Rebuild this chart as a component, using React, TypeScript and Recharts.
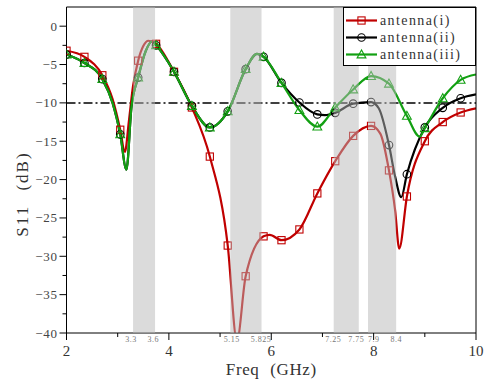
import React from 'react';
import { LineChart, Line, XAxis, YAxis, ReferenceLine, ReferenceArea } from 'recharts';

// S11, frequency in GHz, value in dB
const freqI = [2.0, 2.35, 2.7, 2.9, 3.05, 3.14, 3.22, 3.3, 3.4, 3.5, 3.6, 3.75, 4.1, 4.45, 4.8, 5.15, 5.33, 5.5, 5.85, 5.97, 6.2, 6.55, 6.9, 7.25, 7.6, 7.95, 8.13, 8.3, 8.42, 8.5, 8.65, 9.0, 9.35, 9.7, 10.0];
const s11I = [-3.2, -4.0, -6.4, -9.5, -13.5, -16.4, -12.3, -7.8, -4.5, -2.6, -1.9, -2.3, -5.95, -10.6, -17.0, -28.6, -41, -32.6, -27.4, -27.2, -27.9, -26.5, -21.8, -17.6, -14.3, -13.0, -14.0, -18.8, -24, -29.0, -22.2, -15.0, -12.5, -11.25, -10.7];

const freqII = [2.0, 2.35, 2.7, 2.9, 3.05, 3.17, 3.27, 3.4, 3.55, 3.67, 3.75, 4.1, 4.45, 4.8, 5.15, 5.5, 5.72, 5.85, 6.2, 6.55, 6.9, 7.05, 7.25, 7.6, 7.95, 8.1, 8.3, 8.42, 8.54, 8.65, 9.0, 9.35, 9.7, 10.0];
const s11II = [-3.7, -4.8, -6.9, -10.0, -14.1, -18.7, -10.5, -6.7, -3.2, -2.0, -2.5, -5.95, -10.4, -13.2, -11.1, -5.6, -3.6, -4.0, -7.4, -9.95, -11.5, -11.6, -11.3, -10.1, -9.9, -10.7, -15.5, -19.6, -22.3, -19.3, -13.2, -10.65, -9.4, -8.9];

const freqIII = [2.0, 2.35, 2.7, 2.9, 3.05, 3.17, 3.27, 3.4, 3.55, 3.67, 3.75, 4.1, 4.45, 4.8, 5.15, 5.5, 5.72, 5.85, 6.2, 6.55, 6.9, 7.25, 7.6, 7.95, 8.3, 8.65, 8.9, 9.0, 9.35, 9.7, 10.0];
const s11III = [-3.7, -4.8, -6.9, -10.0, -14.1, -18.7, -10.5, -6.7, -3.2, -2.0, -2.5, -5.95, -10.4, -13.2, -11.1, -5.6, -3.6, -4.0, -7.4, -10.95, -13.1, -10.6, -8.25, -6.5, -7.5, -11.7, -14.4, -13.3, -9.4, -7.0, -6.3];

// markers sit every 0.35 GHz
const MARKER_FREQS = [2.0, 2.35, 2.7, 3.05, 3.4, 3.75, 4.1, 4.45, 4.8, 5.15, 5.5, 5.85, 6.2, 6.55, 6.9, 7.25, 7.6, 7.95, 8.3, 8.65, 9.0, 9.35, 9.7];

// shaded bands (GHz) and their labels under the axis
const BAND_START = [3.3, 5.2, 7.22, 7.89];
const BAND_END = [3.73, 5.81, 7.71, 8.44];
const BAND_LABEL_AT = [3.26, 3.695, 5.23, 5.8, 7.21, 7.66, 8.0, 8.44];
const BAND_LABEL_TEXT = ['3.3', '3.6', '5.15', '5.825', '7.25', '7.75', '7.9', '8.4'];

const X_TICKS = [2, 3, 4, 5, 6, 7, 8, 9, 10];
const Y_TICKS = [-40, -37.5, -35, -32.5, -30, -27.5, -25, -22.5, -20, -17.5, -15, -12.5, -10, -7.5, -5, -2.5, 0];

const RED = '#c00000';
const BLACK = '#000000';
const GREEN = '#12a012';
const SERIF = '"Liberation Serif", "Times New Roman", serif';

const toPoints = (f: number[], v: number[]) => f.map((x, i) => ({ f: x, v: v[i] }));
const dataI = toPoints(freqI, s11I);
const dataII = toPoints(freqII, s11II);
const dataIII = toPoints(freqIII, s11III);

const isMarker = (f: number) => MARKER_FREQS.some(m => Math.abs(m - f) < 1e-6);

const Marker = ({ shape, cx, cy, color }: any) => {
  if (shape === 'square') {
    return <rect x={cx - 3.6} y={cy - 3.6} width={7.2} height={7.2} fill="none" stroke={color} strokeWidth={1.1} />;
  }
  if (shape === 'circle') {
    return <circle cx={cx} cy={cy} r={3.8} fill="none" stroke={color} strokeWidth={1.1} />;
  }
  return (
    <polygon
      points={`${cx},${cy - 4.6} ${cx - 4.4},${cy + 3.4} ${cx + 4.4},${cy + 3.4}`}
      fill="none"
      stroke={color}
      strokeWidth={1.1}
    />
  );
};

const makeDot = (shape: string, color: string) => (props: any) => {
  const { cx, cy, payload, index } = props;
  if (!isMarker(payload.f) || cy == null) return <g key={`d-${index}`} />;
  return (
    <g key={`d-${index}`}>
      <Marker shape={shape} cx={cx} cy={cy} color={color} />
    </g>
  );
};

const fmtY = (v: number) => (v < 0 ? `\u2212${-v}` : `${v}`);

const YTick = (props: any) => {
  const { x, y, payload } = props;
  const v = payload.value;
  const major = v % 5 === 0;
  return (
    <g>
      <line x1={x} x2={x - (major ? 7 : 4)} y1={y} y2={y} stroke="#000" strokeWidth={1} />
      {major && (
        <text x={x - 9} y={y + 4.5} textAnchor="end" fontFamily={SERIF} fontSize={13} fill="#444" letterSpacing={0.6}>
          {fmtY(v)}
        </text>
      )}
    </g>
  );
};

const XTick = (props: any) => {
  const { x, y, payload } = props;
  const v = payload.value;
  const major = v % 2 === 0;
  return (
    <g>
      <line x1={x} x2={x} y1={y} y2={y + (major ? 7 : 4)} stroke="#000" strokeWidth={1} />
      {major && (
        <text x={x} y={y + 23} textAnchor="middle" fontFamily={SERIF} fontSize={15} fill="#333">
          {v}
        </text>
      )}
    </g>
  );
};

const YTitle = (props: any) => {
  const vb = props.viewBox;
  const cx = vb.x + 16;
  const cy = vb.y + vb.height / 2 + 24;
  return (
    <text
      x={cx}
      y={cy}
      transform={`rotate(-90 ${cx} ${cy})`}
      textAnchor="middle"
      dominantBaseline="central"
      fontFamily={SERIF}
      fontSize={17}
      letterSpacing={2}
      wordSpacing={8}
      fill="#333"
    >
      S11 (dB)
    </text>
  );
};

const LEGEND = [
  { name: 'antenna(i)', color: RED, shape: 'square' },
  { name: 'antenna(ii)', color: BLACK, shape: 'circle' },
  { name: 'antenna(iii)', color: GREEN, shape: 'triangle' },
];

const LegendBox = () => (
  <div
    style={{
      position: 'absolute',
      left: 343,
      top: 7,
      width: 131,
      height: 53,
      border: '1px solid #000',
      background: '#fff',
      paddingTop: 4,
      boxSizing: 'content-box',
    }}
  >
    {LEGEND.map(item => (
      <div key={item.name} style={{ display: 'flex', alignItems: 'center', height: 17 }}>
        <svg width={36} height={17} style={{ display: 'block' }}>
          <line x1={2} x2={33} y1={8.5} y2={8.5} stroke={item.color} strokeWidth={2.2} />
          <Marker shape={item.shape} cx={17.5} cy={8.5} color={item.color} />
        </svg>
        <span style={{ fontFamily: SERIF, fontSize: 14, letterSpacing: 1.4, color: '#333', lineHeight: '17px' }}>
          {item.name}
        </span>
      </div>
    ))}
  </div>
);

export default function App() {
  return (
    <div style={{ position: 'absolute', left: 0, top: 0, width: 484, height: 383, background: '#fff' }}>
      <LineChart width={484} height={383} margin={{ top: 7, right: 8, left: 6, bottom: 0 }}>
        <XAxis
          dataKey="f"
          type="number"
          domain={[2, 10]}
          ticks={X_TICKS}
          interval={0}
          allowDataOverflow
          height={50}
          tickSize={0}
          tickMargin={0}
          tickLine={false}
          tick={<XTick />}
          axisLine={{ stroke: '#000', strokeWidth: 1 }}
          label={{
            value: 'Freq (GHz)',
            position: 'insideBottom',
            offset: 8,
            fontFamily: SERIF,
            fontSize: 17,
            fill: '#333',
            letterSpacing: 0.6,
            wordSpacing: 6,
          }}
        />
        <YAxis
          dataKey="v"
          type="number"
          domain={[-40, 2.5]}
          ticks={Y_TICKS}
          interval={0}
          allowDataOverflow
          width={60.5}
          tickSize={0}
          tickMargin={0}
          tickLine={false}
          tick={<YTick />}
          axisLine={{ stroke: '#000', strokeWidth: 1 }}
          label={{ content: <YTitle /> }}
        />
        <ReferenceLine y={-10} stroke="#000" strokeWidth={1.5} strokeDasharray="9 3 2 3" />
        <Line
          data={dataI}
          dataKey="v"
          type="monotone"
          stroke={RED}
          strokeWidth={2.2}
          dot={makeDot('square', RED)}
          activeDot={false}
          isAnimationActive={false}
        />
        <Line
          data={dataII}
          dataKey="v"
          type="monotone"
          stroke={BLACK}
          strokeWidth={2.2}
          dot={makeDot('circle', BLACK)}
          activeDot={false}
          isAnimationActive={false}
        />
        <Line
          data={dataIII}
          dataKey="v"
          type="monotone"
          stroke={GREEN}
          strokeWidth={2.2}
          dot={makeDot('triangle', GREEN)}
          activeDot={false}
          isAnimationActive={false}
        />
        {BAND_START.map((s, i) => (
          <ReferenceArea
            key={`band-${i}`}
            x1={s}
            x2={BAND_END[i]}
            y1={-40}
            y2={2.5}
            fill="#b8b8b8"
            fillOpacity={0.5}
            stroke="none"
            zIndex={1000}
          />
        ))}
        {BAND_LABEL_AT.map((x, i) => (
          <ReferenceLine
            key={`bl-${i}`}
            x={x}
            stroke="none"
            label={{
              value: BAND_LABEL_TEXT[i],
              position: 'bottom',
              offset: 3,
              fontFamily: SERIF,
              fontSize: 8,
              fill: '#777',
              letterSpacing: 0.5,
            }}
          />
        ))}
        <ReferenceLine y={2.5} stroke="#000" strokeWidth={1} />
        <ReferenceLine x={10} stroke="#000" strokeWidth={1} />
      </LineChart>
      <LegendBox />
    </div>
  );
}
